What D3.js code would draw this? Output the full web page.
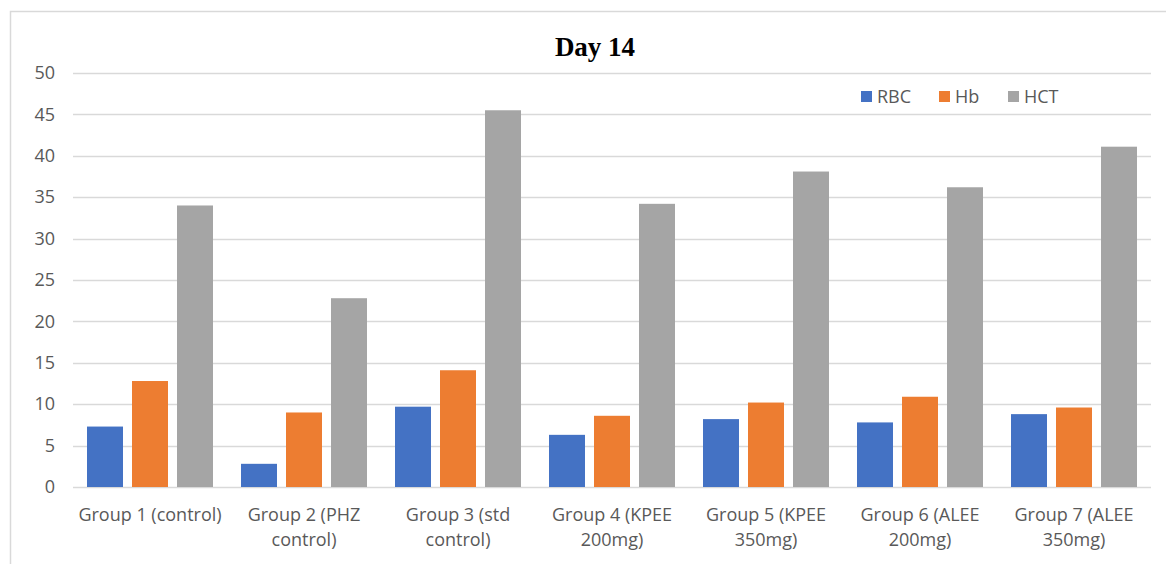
<!DOCTYPE html>
<html>
<head>
<meta charset="utf-8">
<script src="https://cdn.jsdelivr.net/npm/d3@7"></script>
<style>
  html, body { margin: 0; padding: 0; background: #fff; }
  svg { display: block; }
</style>
</head>
<body>
<svg id="chart" width="1166" height="564"></svg>
<script>
const title = "Day 14";
const categories = [
  "Group 1 (control)",
  "Group 2 (PHZ control)",
  "Group 3 (std control)",
  "Group 4 (KPEE 200mg)",
  "Group 5 (KPEE 350mg)",
  "Group 6 (ALEE 200mg)",
  "Group 7 (ALEE 350mg)"
];
const seriesNames = ["RBC", "Hb", "HCT"];
const rbc = [7.3, 2.8, 9.7, 6.3, 8.2, 7.8, 8.8];
const hb  = [12.8, 9.0, 14.1, 8.6, 10.2, 10.9, 9.6];
const hct = [34.0, 22.8, 45.5, 34.2, 38.1, 36.2, 41.1];
const yTicks = [0, 5, 10, 15, 20, 25, 30, 35, 40, 45, 50];
const colors = ["#4472C4", "#ED7D31", "#A5A5A5"];

const seriesValues = [rbc, hb, hct];
const data = categories.map((c, i) => ({
  cat: c,
  vals: seriesNames.map((s, j) => ({ key: s, value: seriesValues[j][i] }))
}));

const svg = d3.select("#chart");
const font = "'Open Sans', 'Noto Sans', sans-serif";

// outer chart border
svg.append("rect")
  .attr("x", 10.5).attr("y", 11.5)
  .attr("width", 1170).attr("height", 570)
  .attr("fill", "none").attr("stroke", "#D9D9D9").attr("stroke-width", 1.5);

const plotL = 73, plotR = 1151, plotT = 73, plotB = 487;

const x0 = d3.scaleBand().domain(categories).range([plotL, plotR])
  .paddingInner(28 / 154).paddingOuter(14 / 154);
const x1 = d3.scaleBand().domain(seriesNames).range([0, x0.bandwidth()])
  .paddingInner(0.2).paddingOuter(0);
const y = d3.scaleLinear().domain([0, 50]).range([plotB, plotT]);

// gridlines
svg.append("g").selectAll("line").data(yTicks).join("line")
  .attr("x1", plotL).attr("x2", plotR)
  .attr("y1", d => Math.round(y(d)) + 0.5).attr("y2", d => Math.round(y(d)) + 0.5)
  .attr("stroke", "#D9D9D9").attr("stroke-width", 1.5);

// y axis labels
const yAxis = d3.axisLeft(y).tickValues(yTicks).tickSize(0).tickPadding(0);
const gy = svg.append("g").attr("transform", `translate(55,0)`).call(yAxis);
gy.select(".domain").remove();
gy.selectAll("text")
  .attr("fill", "#595959")
  .style("font-family", font).style("font-size", "18px");

// bars
const groups = svg.append("g").selectAll("g").data(data).join("g")
  .attr("transform", d => `translate(${x0(d.cat)},0)`);
groups.selectAll("rect").data(d => d.vals).join("rect")
  .attr("x", d => x1(d.key))
  .attr("width", x1.bandwidth())
  .attr("y", d => y(d.value))
  .attr("height", d => y(0) - y(d.value))
  .attr("fill", (d, i) => colors[i]);

// x axis labels
const xAxis = d3.axisBottom(x0).tickSize(0).tickPadding(0);
const gx = svg.append("g").attr("transform", `translate(0,${plotB + 21})`).call(xAxis);
gx.select(".domain").remove();
gx.selectAll("text")
  .attr("fill", "#595959")
  .style("font-family", font).style("font-size", "18px")
  .each(function() {
    const t = d3.select(this);
    const words = t.text().split(/\s+/);
    t.text(null);
    let line = [];
    let tspan = t.append("tspan").attr("x", 0).attr("dy", "0.71em");
    for (const w of words) {
      line.push(w);
      tspan.text(line.join(" "));
      if (tspan.node().getComputedTextLength() > 152 && line.length > 1) {
        line.pop();
        tspan.text(line.join(" "));
        line = [w];
        tspan = t.append("tspan").attr("x", 0).attr("dy", "1.38em").text(w);
      }
    }
  });

// title
svg.append("text")
  .attr("x", 595).attr("y", 56)
  .attr("text-anchor", "middle")
  .style("font-family", "'Liberation Serif', 'Times New Roman', serif")
  .style("font-weight", "bold").style("font-size", "27px")
  .attr("fill", "#000")
  .text(title);

// legend
const legendX = [861, 939, 1008];
const lg = svg.append("g").selectAll("g").data(seriesNames).join("g")
  .attr("transform", (d, i) => `translate(${legendX[i]},91)`);
lg.append("rect").attr("width", 11).attr("height", 11)
  .attr("fill", (d, i) => colors[i]);
lg.append("text").attr("x", 16).attr("y", 5.5).attr("dy", "0.35em")
  .attr("fill", "#595959")
  .style("font-family", font).style("font-size", "18px")
  .text(d => d);
</script>
</body>
</html>
